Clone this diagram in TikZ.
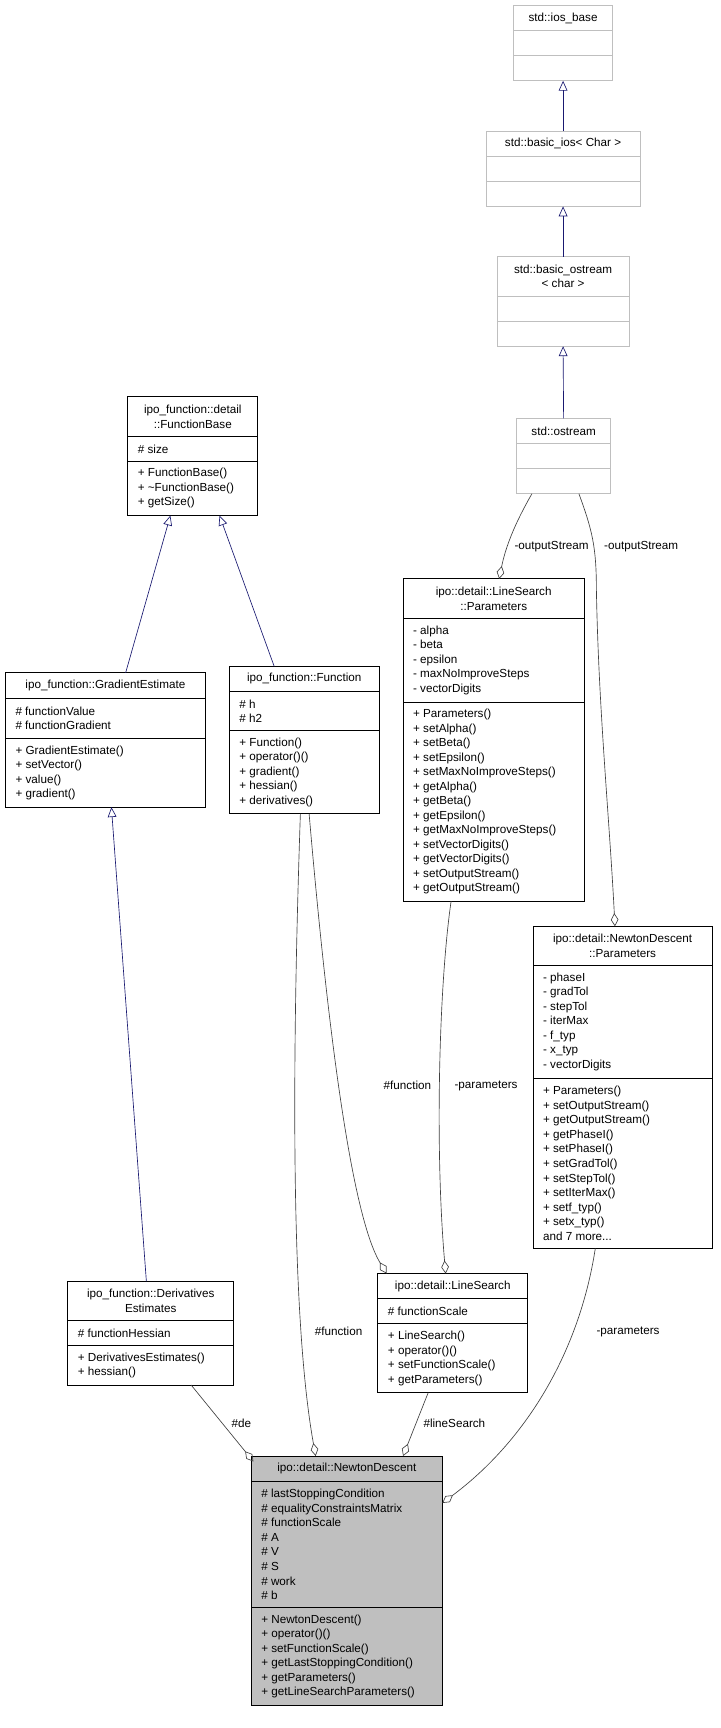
\documentclass[tikz,border=0pt]{standalone}
\usepackage{fontspec}
\setmainfont{Liberation Sans}
\usetikzlibrary{arrows.meta}
\definecolor{ndgray}{RGB}{191,191,191}
\definecolor{edgeblue}{RGB}{25,25,112}
\definecolor{edgegray}{RGB}{64,64,64}
\definecolor{stdgray}{RGB}{191,191,191}
\newcommand\ubox[6]{\node[#6, minimum width=#4pt-#2pt, minimum height=#5pt-#3pt, anchor=north west, inner sep=0pt, outer sep=0pt] (#1) at (#2,#3) {};}
\tikzset{
  cls/.style={draw=black, line width=0.8pt, fill=white},
  stdcls/.style={draw=stdgray, line width=0.8pt, fill=white},
  ndcls/.style={draw=black, line width=0.8pt, fill=ndgray},
  txt/.style={font=\fontsize{10.7}{13.3}\selectfont, inner sep=0pt, text=black},
  mem/.style={txt, anchor=west, align=left},
  ttl/.style={txt, align=center},
  inh/.style={draw=edgeblue, line width=0.6pt, -{Triangle[open, length=9pt, width=8pt]}},
  agg/.style={draw=edgegray, line width=0.6pt, -{Diamond[open, length=12pt, width=7pt]}},
  lbl/.style={txt}
}
\begin{document}
\begin{tikzpicture}[x=1pt,y=-1pt]
\useasboundingbox (0,0) rectangle (660,1582);
% std boxes
\ubox{iosbase}{470}{5}{561}{74}{stdcls}
\draw[stdgray,line width=0.8pt] (470,28)--(561,28) (470,51)--(561,51);
\node[ttl] (t1) at (515.5,16.5) {std::ios\_base};
\ubox{basicios}{445}{120}{586}{189}{stdcls}
\draw[stdgray,line width=0.8pt] (445,143)--(586,143) (445,166)--(586,166);
\node[ttl] (t2) at (515.5,131.5) {std::basic\_ios\textless{} Char \textgreater};
\ubox{basicostream}{455}{235}{576}{317}{stdcls}
\draw[stdgray,line width=0.8pt] (455,271)--(576,271) (455,294)--(576,294);
\node[ttl] (t3) at (515.5,253) {std::basic\_ostream\\\textless{} char \textgreater};
\ubox{ostream}{473}{383}{559}{452}{stdcls}
\draw[stdgray,line width=0.8pt] (473,406)--(559,406) (473,429)--(559,429);
\node[ttl] (t4) at (516,394.5) {std::ostream};
% FunctionBase
\ubox{fbase}{117}{363}{236}{472}{cls}
\draw[line width=0.8pt] (117,400)--(236,400) (117,422)--(236,422);
\node[ttl] (t5) at (176.5,381.5) {ipo\_function::detail\\::FunctionBase};
\node[mem] (m5a) at (126,411) {\# size};
\node[mem] (m5b) at (126,447) {+ FunctionBase()\\+ \textasciitilde FunctionBase()\\+ getSize()};
% GradientEstimate
\ubox{grad}{5}{616}{188}{739}{cls}
\draw[line width=0.8pt] (5,639)--(188,639) (5,676)--(188,676);
\node[ttl] (t6) at (96.5,627.5) {ipo\_function::GradientEstimate};
\node[mem] (m6a) at (14,657.5) {\# functionValue\\\# functionGradient};
\node[mem] (m6b) at (14,707.5) {+ GradientEstimate()\\+ setVector()\\+ value()\\+ gradient()};
% Function
\ubox{func}{210}{610}{347}{745}{cls}
\draw[line width=0.8pt] (210,633)--(347,633) (210,669)--(347,669);
\node[ttl] (t7) at (278.5,621.5) {ipo\_function::Function};
\node[mem] (m7a) at (219,651) {\# h\\\# h2};
\node[mem] (m7b) at (219,707) {+ Function()\\+ operator()()\\+ gradient()\\+ hessian()\\+ derivatives()};
% LineSearch Parameters
\ubox{lsparams}{369}{530}{535}{825}{cls}
\draw[line width=0.8pt] (369,566)--(535,566) (369,643)--(535,643);
\node[ttl] (t8) at (452,548) {ipo::detail::LineSearch\\::Parameters};
\node[mem] (m8a) at (378,604.5) {- alpha\\- beta\\- epsilon\\- maxNoImproveSteps\\- vectorDigits};
\node[mem] (m8b) at (378,734) {+ Parameters()\\+ setAlpha()\\+ setBeta()\\+ setEpsilon()\\+ setMaxNoImproveSteps()\\+ getAlpha()\\+ getBeta()\\+ getEpsilon()\\+ getMaxNoImproveSteps()\\+ setVectorDigits()\\+ getVectorDigits()\\+ setOutputStream()\\+ getOutputStream()};
% NewtonDescent Parameters
\ubox{ndparams}{488}{848}{652}{1143}{cls}
\draw[line width=0.8pt] (488,884)--(652,884) (488,987)--(652,987);
\node[ttl] (t9) at (570,866) {ipo::detail::NewtonDescent\\::Parameters};
\node[mem] (m9a) at (497,935.5) {- phaseI\\- gradTol\\- stepTol\\- iterMax\\- f\_typ\\- x\_typ\\- vectorDigits};
\node[mem] (m9b) at (497,1065) {+ Parameters()\\+ setOutputStream()\\+ getOutputStream()\\+ getPhaseI()\\+ setPhaseI()\\+ setGradTol()\\+ setStepTol()\\+ setIterMax()\\+ setf\_typ()\\+ setx\_typ()\\and 7 more...};
% DerivativesEstimates
\ubox{deriv}{62}{1173}{214}{1268}{cls}
\draw[line width=0.8pt] (62,1209)--(214,1209) (62,1232)--(214,1232);
\node[ttl] (t10) at (138,1191) {ipo\_function::Derivatives\\Estimates};
\node[mem] (m10a) at (71,1220.5) {\# functionHessian};
\node[mem] (m10b) at (71,1250) {+ DerivativesEstimates()\\+ hessian()};
% LineSearch
\ubox{ls}{346}{1166}{483}{1275}{cls}
\draw[line width=0.8pt] (346,1189)--(483,1189) (346,1212)--(483,1212);
\node[ttl] (t11) at (414.5,1177.5) {ipo::detail::LineSearch};
\node[mem] (m11a) at (355,1200.5) {\# functionScale};
\node[mem] (m11b) at (355,1243.5) {+ LineSearch()\\+ operator()()\\+ setFunctionScale()\\+ getParameters()};
% NewtonDescent
\ubox{nd}{230}{1333}{405}{1561}{ndcls}
\draw[line width=0.8pt] (230,1356)--(405,1356) (230,1472)--(405,1472);
\node[ttl] (t12) at (317.5,1344.5) {ipo::detail::NewtonDescent};
\node[mem] (m12a) at (239,1414) {\# lastStoppingCondition\\\# equalityConstraintsMatrix\\\# functionScale\\\# A\\\# V\\\# S\\\# work\\\# b};
\node[mem] (m12b) at (239,1516.5) {+ NewtonDescent()\\+ operator()()\\+ setFunctionScale()\\+ getLastStoppingCondition()\\+ getParameters()\\+ getLineSearchParameters()};
% inheritance
\draw[inh] (basicios.north) -- (iosbase.south);
\draw[inh] (basicostream.north) -- (basicios.south);
\draw[inh] (ostream.north) -- (basicostream.south);
\coordinate (gtop) at (115,616); \coordinate (fb1) at (156,472);
\coordinate (ftop) at (251,610); \coordinate (fb2) at (201,472);
\draw[inh] (gtop) -- (fb1);
\draw[inh] (ftop) -- (fb2);
\coordinate (dtop) at (134,1173); \coordinate (gbot) at (102,739);
\draw[inh] (dtop) -- (gbot);
% aggregation
\coordinate (os1) at (487,452); \coordinate (lsp1) at (457,530);
\draw[agg] (os1) .. controls (472,478) and (463,500) .. (lsp1);
\coordinate (os2) at (530,452); \coordinate (ndp1) at (563,848);
\draw[agg] (os2) .. controls (542,485) and (546,500) .. (546,540) .. controls (548,650) and (558,750) .. (ndp1);
\coordinate (fn1) at (283,745); \coordinate (ls1) at (354,1166);
\draw[agg] (fn1) .. controls (298,920) and (320,1110) .. (ls1);
\coordinate (fn2) at (275,745); \coordinate (nd1) at (289,1333);
\draw[agg] (fn2) .. controls (268,950) and (265,1200) .. (nd1);
\coordinate (lsp2) at (413,825); \coordinate (ls2) at (408,1166);
\draw[agg] (lsp2) .. controls (402,900) and (398,1050) .. (ls2);
\coordinate (ndp2) at (545,1143); \coordinate (nd2) at (405,1376);
\draw[agg] (ndp2) .. controls (530,1240) and (480,1320) .. (nd2);
\coordinate (d1) at (175,1268); \coordinate (nd3) at (232,1338);
\draw[agg] (d1) -- (nd3);
\coordinate (ls3) at (392,1275); \coordinate (nd4) at (369,1333);
\draw[agg] (ls3) -- (nd4);
% labels
\node[lbl] (l1) at (505,500) {-outputStream};
\node[lbl] (l2) at (587,500) {-outputStream};
\node[lbl] (l3) at (373,994) {\#function};
\node[lbl] (l4) at (445,994) {-parameters};
\node[lbl] (l5) at (310,1219) {\#function};
\node[lbl] (l6) at (575,1219) {-parameters};
\node[lbl] (l7) at (221,1303) {\#de};
\node[lbl] (l8) at (416,1303) {\#lineSearch};
\end{tikzpicture}
\end{document}
